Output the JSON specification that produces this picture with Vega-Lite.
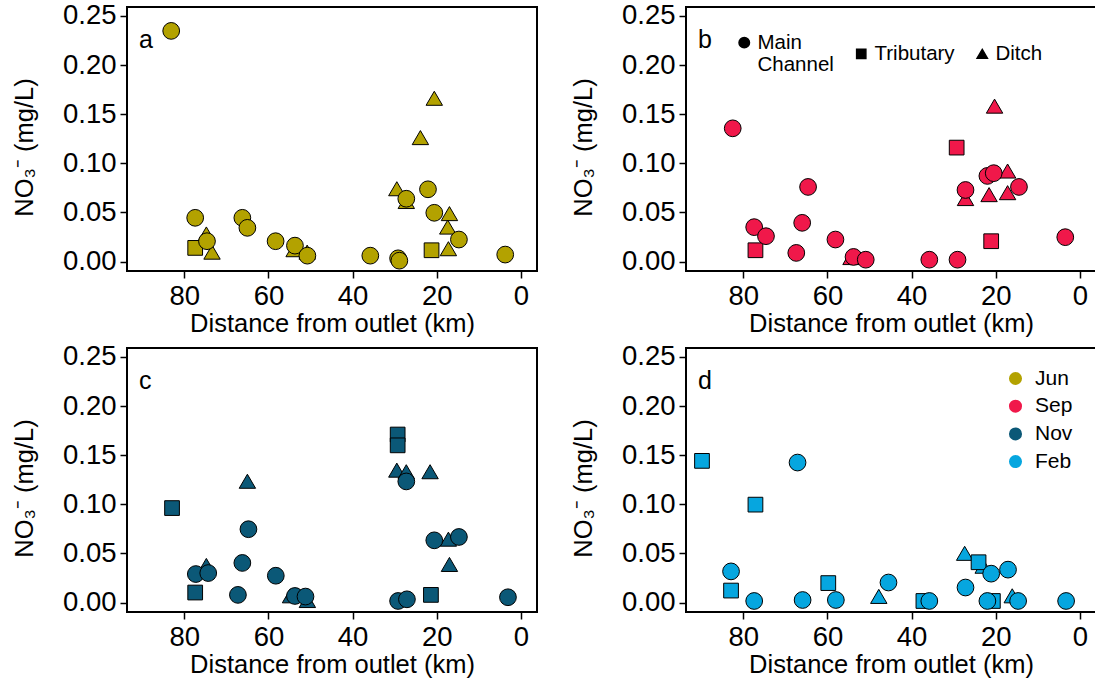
{
  "$schema": "https://vega.github.io/schema/vega-lite/v6.json",
  "autosize": {"type": "none"},
  "padding": {"left": 127, "top": 7, "right": 968, "bottom": 671},
  "background": "white",
  "bounds": "flush",
  "spacing": {"row": 77, "column": 149},
  "columns": 2,
  "config": {
    "font": "Liberation Sans",
    "view": {"stroke": "black", "strokeWidth": 2},
    "axis": {"domain": false, "grid": false, "ticks": true, "tickColor": "black", "tickWidth": 1.5, "tickSize": 7, "labelFont": "Liberation Sans", "labelFontSize": 27.5, "labelColor": "black", "labelPadding": 4, "titleFont": "Liberation Sans", "titleFontSize": 25.5, "titleFontWeight": "normal", "titleColor": "black"},
    "axisX": {"titlePadding": 2},
    "axisY": {"titlePadding": 25, "titleY": 140},
    "legend": {"labelFont": "Liberation Sans", "labelColor": "black", "padding": 0},
    "title": {"anchor": "start", "frame": "group", "orient": "top", "offset": -51, "dx": 12, "fontSize": 25, "fontWeight": "normal", "font": "Liberation Sans", "color": "black", "baseline": "alphabetic"}
  },
  "resolve": {
    "scale": {"shape": "independent", "fill": "independent"},
    "legend": {"shape": "independent", "fill": "independent"}
  },
  "datasets": {
    "jun": [
      {"dist": 20.6, "no3": 0.166, "type": "Ditch", "month": "Jun"},
      {"dist": 23.9, "no3": 0.126, "type": "Ditch", "month": "Jun"},
      {"dist": 29.5, "no3": 0.074, "type": "Ditch", "month": "Jun"},
      {"dist": 27.25, "no3": 0.061, "type": "Ditch", "month": "Jun"},
      {"dist": 17.0, "no3": 0.0487, "type": "Ditch", "month": "Jun"},
      {"dist": 17.4, "no3": 0.035, "type": "Ditch", "month": "Jun"},
      {"dist": 17.25, "no3": 0.013, "type": "Ditch", "month": "Jun"},
      {"dist": 74.75, "no3": 0.028, "type": "Ditch", "month": "Jun"},
      {"dist": 73.4, "no3": 0.0095, "type": "Ditch", "month": "Jun"},
      {"dist": 53.9, "no3": 0.012, "type": "Ditch", "month": "Jun"},
      {"dist": 50.8, "no3": 0.0095, "type": "Ditch", "month": "Jun"},
      {"dist": 77.4, "no3": 0.014, "type": "Tributary", "month": "Jun"},
      {"dist": 21.25, "no3": 0.0116, "type": "Tributary", "month": "Jun"},
      {"dist": 83.1, "no3": 0.2347, "type": "Main Channel", "month": "Jun"},
      {"dist": 77.4, "no3": 0.0446, "type": "Main Channel", "month": "Jun"},
      {"dist": 74.6, "no3": 0.0208, "type": "Main Channel", "month": "Jun"},
      {"dist": 66.2, "no3": 0.0446, "type": "Main Channel", "month": "Jun"},
      {"dist": 65.0, "no3": 0.0344, "type": "Main Channel", "month": "Jun"},
      {"dist": 58.3, "no3": 0.0208, "type": "Main Channel", "month": "Jun"},
      {"dist": 53.7, "no3": 0.0163, "type": "Main Channel", "month": "Jun"},
      {"dist": 50.75, "no3": 0.0061, "type": "Main Channel", "month": "Jun"},
      {"dist": 35.8, "no3": 0.0061, "type": "Main Channel", "month": "Jun"},
      {"dist": 29.2, "no3": 0.0034, "type": "Main Channel", "month": "Jun"},
      {"dist": 28.9, "no3": 0.001, "type": "Main Channel", "month": "Jun"},
      {"dist": 27.25, "no3": 0.064, "type": "Main Channel", "month": "Jun"},
      {"dist": 22.1, "no3": 0.0736, "type": "Main Channel", "month": "Jun"},
      {"dist": 20.6, "no3": 0.0497, "type": "Main Channel", "month": "Jun"},
      {"dist": 14.75, "no3": 0.0225, "type": "Main Channel", "month": "Jun"},
      {"dist": 3.75, "no3": 0.0072, "type": "Main Channel", "month": "Jun"}
    ],
    "sep": [
      {"dist": 20.3, "no3": 0.158, "type": "Ditch", "month": "Sep"},
      {"dist": 17.2, "no3": 0.092, "type": "Ditch", "month": "Sep"},
      {"dist": 17.2, "no3": 0.070, "type": "Ditch", "month": "Sep"},
      {"dist": 21.6, "no3": 0.068, "type": "Ditch", "month": "Sep"},
      {"dist": 27.2, "no3": 0.064, "type": "Ditch", "month": "Sep"},
      {"dist": 54.4, "no3": 0.004, "type": "Ditch", "month": "Sep"},
      {"dist": 29.3, "no3": 0.116, "type": "Tributary", "month": "Sep"},
      {"dist": 21.1, "no3": 0.0208, "type": "Tributary", "month": "Sep"},
      {"dist": 77.1, "no3": 0.0116, "type": "Tributary", "month": "Sep"},
      {"dist": 82.5, "no3": 0.1356, "type": "Main Channel", "month": "Sep"},
      {"dist": 77.4, "no3": 0.0351, "type": "Main Channel", "month": "Sep"},
      {"dist": 74.6, "no3": 0.0259, "type": "Main Channel", "month": "Sep"},
      {"dist": 67.4, "no3": 0.0089, "type": "Main Channel", "month": "Sep"},
      {"dist": 66.0, "no3": 0.0395, "type": "Main Channel", "month": "Sep"},
      {"dist": 64.6, "no3": 0.076, "type": "Main Channel", "month": "Sep"},
      {"dist": 58.1, "no3": 0.0225, "type": "Main Channel", "month": "Sep"},
      {"dist": 53.8, "no3": 0.0048, "type": "Main Channel", "month": "Sep"},
      {"dist": 50.9, "no3": 0.002, "type": "Main Channel", "month": "Sep"},
      {"dist": 35.8, "no3": 0.002, "type": "Main Channel", "month": "Sep"},
      {"dist": 29.1, "no3": 0.002, "type": "Main Channel", "month": "Sep"},
      {"dist": 27.2, "no3": 0.0729, "type": "Main Channel", "month": "Sep"},
      {"dist": 22.0, "no3": 0.0872, "type": "Main Channel", "month": "Sep"},
      {"dist": 20.5, "no3": 0.09, "type": "Main Channel", "month": "Sep"},
      {"dist": 14.5, "no3": 0.076, "type": "Main Channel", "month": "Sep"},
      {"dist": 3.5, "no3": 0.0249, "type": "Main Channel", "month": "Sep"}
    ],
    "nov": [
      {"dist": 65.0, "no3": 0.1233, "type": "Ditch", "month": "Nov"},
      {"dist": 29.5, "no3": 0.1346, "type": "Ditch", "month": "Nov"},
      {"dist": 27.25, "no3": 0.133, "type": "Ditch", "month": "Nov"},
      {"dist": 21.6, "no3": 0.133, "type": "Ditch", "month": "Nov"},
      {"dist": 17.25, "no3": 0.0644, "type": "Ditch", "month": "Nov"},
      {"dist": 17.0, "no3": 0.0387, "type": "Ditch", "month": "Nov"},
      {"dist": 74.75, "no3": 0.0377, "type": "Ditch", "month": "Nov"},
      {"dist": 54.75, "no3": 0.0068, "type": "Ditch", "month": "Nov"},
      {"dist": 50.75, "no3": 0.002, "type": "Ditch", "month": "Nov"},
      {"dist": 82.9, "no3": 0.0962, "type": "Tributary", "month": "Nov"},
      {"dist": 77.4, "no3": 0.0103, "type": "Tributary", "month": "Nov"},
      {"dist": 29.3, "no3": 0.171, "type": "Tributary", "month": "Nov"},
      {"dist": 29.3, "no3": 0.160, "type": "Tributary", "month": "Nov"},
      {"dist": 21.4, "no3": 0.0079, "type": "Tributary", "month": "Nov"},
      {"dist": 77.25, "no3": 0.0291, "type": "Main Channel", "month": "Nov"},
      {"dist": 74.3, "no3": 0.0301, "type": "Main Channel", "month": "Nov"},
      {"dist": 67.25, "no3": 0.0079, "type": "Main Channel", "month": "Nov"},
      {"dist": 66.2, "no3": 0.0404, "type": "Main Channel", "month": "Nov"},
      {"dist": 64.75, "no3": 0.0747, "type": "Main Channel", "month": "Nov"},
      {"dist": 58.25, "no3": 0.0274, "type": "Main Channel", "month": "Nov"},
      {"dist": 53.7, "no3": 0.0068, "type": "Main Channel", "month": "Nov"},
      {"dist": 51.2, "no3": 0.0062, "type": "Main Channel", "month": "Nov"},
      {"dist": 29.2, "no3": 0.0017, "type": "Main Channel", "month": "Nov"},
      {"dist": 27.1, "no3": 0.0034, "type": "Main Channel", "month": "Nov"},
      {"dist": 27.25, "no3": 0.1233, "type": "Main Channel", "month": "Nov"},
      {"dist": 20.6, "no3": 0.0634, "type": "Main Channel", "month": "Nov"},
      {"dist": 14.75, "no3": 0.0668, "type": "Main Channel", "month": "Nov"},
      {"dist": 3.1, "no3": 0.0055, "type": "Main Channel", "month": "Nov"}
    ],
    "feb": [
      {"dist": 27.4, "no3": 0.05, "type": "Ditch", "month": "Feb"},
      {"dist": 23.0, "no3": 0.0369, "type": "Ditch", "month": "Feb"},
      {"dist": 47.8, "no3": 0.0062, "type": "Ditch", "month": "Feb"},
      {"dist": 16.1, "no3": 0.0068, "type": "Ditch", "month": "Feb"},
      {"dist": 89.8, "no3": 0.1442, "type": "Tributary", "month": "Feb"},
      {"dist": 77.1, "no3": 0.0997, "type": "Tributary", "month": "Feb"},
      {"dist": 82.9, "no3": 0.0123, "type": "Tributary", "month": "Feb"},
      {"dist": 59.8, "no3": 0.0199, "type": "Tributary", "month": "Feb"},
      {"dist": 37.2, "no3": 0.0017, "type": "Tributary", "month": "Feb"},
      {"dist": 24.1, "no3": 0.0411, "type": "Tributary", "month": "Feb"},
      {"dist": 20.7, "no3": 0.0017, "type": "Tributary", "month": "Feb"},
      {"dist": 67.1, "no3": 0.1425, "type": "Main Channel", "month": "Feb"},
      {"dist": 82.9, "no3": 0.0318, "type": "Main Channel", "month": "Feb"},
      {"dist": 77.4, "no3": 0.0017, "type": "Main Channel", "month": "Feb"},
      {"dist": 65.9, "no3": 0.0027, "type": "Main Channel", "month": "Feb"},
      {"dist": 58.0, "no3": 0.0027, "type": "Main Channel", "month": "Feb"},
      {"dist": 45.5, "no3": 0.0205, "type": "Main Channel", "month": "Feb"},
      {"dist": 35.8, "no3": 0.0017, "type": "Main Channel", "month": "Feb"},
      {"dist": 27.2, "no3": 0.0154, "type": "Main Channel", "month": "Feb"},
      {"dist": 22.0, "no3": 0.0017, "type": "Main Channel", "month": "Feb"},
      {"dist": 21.1, "no3": 0.0295, "type": "Main Channel", "month": "Feb"},
      {"dist": 17.1, "no3": 0.0336, "type": "Main Channel", "month": "Feb"},
      {"dist": 14.7, "no3": 0.0017, "type": "Main Channel", "month": "Feb"},
      {"dist": 3.3, "no3": 0.0017, "type": "Main Channel", "month": "Feb"}
    ]
  },
  "concat": [
    {
      "width": 410, "height": 264,
      "data": {"name": "jun"},
      "title": {"text": "a"},
      "mark": {"type": "point", "filled": true, "stroke": "black", "strokeWidth": 1, "opacity": 1, "size": 280},
      "encoding": {
        "x": {"field": "dist", "type": "quantitative", "scale": {"domain": [-3.8, 93.6], "reverse": true, "nice": false, "zero": false}, "axis": {"values": [0, 20, 40, 60, 80], "title": "Distance from outlet (km)"}},
        "y": {"field": "no3", "type": "quantitative", "scale": {"domain": [-0.0095, 0.259], "nice": false, "zero": false}, "axis": {"values": [0, 0.05, 0.1, 0.15, 0.2, 0.25], "format": ".2f", "title": "NO₃⁻   (mg/L)"}},
        "shape": {"field": "type", "type": "nominal", "scale": {"domain": ["Main Channel", "Tributary", "Ditch"], "range": ["circle", "M-0.88,-0.88L0.88,-0.88L0.88,0.88L-0.88,0.88Z", "M0,-0.86L0.98,0.82L-0.98,0.82Z"]}, "legend": null},
        "fill": {"field": "month", "type": "nominal", "scale": {"domain": ["Jun", "Sep", "Nov", "Feb"], "range": ["#B3A200", "#F0184A", "#0B5877", "#06A6DF"]}, "legend": null}
      }
    },
    {
      "width": 410, "height": 264,
      "data": {"name": "sep"},
      "title": {"text": "b"},
      "mark": {"type": "point", "filled": true, "stroke": "black", "strokeWidth": 1, "opacity": 1, "size": 280},
      "encoding": {
        "x": {"field": "dist", "type": "quantitative", "scale": {"domain": [-3.8, 93.6], "reverse": true, "nice": false, "zero": false}, "axis": {"values": [0, 20, 40, 60, 80], "title": "Distance from outlet (km)"}},
        "y": {"field": "no3", "type": "quantitative", "scale": {"domain": [-0.0095, 0.259], "nice": false, "zero": false}, "axis": {"values": [0, 0.05, 0.1, 0.15, 0.2, 0.25], "format": ".2f", "title": "NO₃⁻   (mg/L)"}},
        "shape": {"field": "type", "type": "nominal", "scale": {"domain": ["Main Channel", "Tributary", "Ditch"], "range": ["circle", "M-0.88,-0.88L0.88,-0.88L0.88,0.88L-0.88,0.88Z", "M0,-0.86L0.98,0.82L-0.98,0.82Z"]},
          "legend": {"orient": "none", "legendX": 48, "legendY": 25, "direction": "horizontal", "title": null, "labelFontSize": 20.5, "symbolSize": 110, "labelOffset": 3, "columnPadding": 17,
            "labelExpr": "datum.label == 'Main Channel' ? ['Main', 'Channel'] : datum.label",
            "symbolFillColor": "black", "symbolStrokeColor": "black",
            "encode": {
              "symbols": {"fill": {"value": "black"}, "stroke": {"value": "black"}},
              "labels": {
                "lineHeight": {"value": 25},
                "dy": {"condition": {"test": "datum.index === 0", "value": -12.5}, "value": 0},
                "dx": {"condition": {"test": "datum.index === 0", "value": 6}, "value": 0}
              }
            }}},
        "fill": {"field": "month", "type": "nominal", "scale": {"domain": ["Jun", "Sep", "Nov", "Feb"], "range": ["#B3A200", "#F0184A", "#0B5877", "#06A6DF"]}, "legend": null}
      }
    },
    {
      "width": 410, "height": 264,
      "data": {"name": "nov"},
      "title": {"text": "c"},
      "mark": {"type": "point", "filled": true, "stroke": "black", "strokeWidth": 1, "opacity": 1, "size": 280},
      "encoding": {
        "x": {"field": "dist", "type": "quantitative", "scale": {"domain": [-3.8, 93.6], "reverse": true, "nice": false, "zero": false}, "axis": {"values": [0, 20, 40, 60, 80], "title": "Distance from outlet (km)"}},
        "y": {"field": "no3", "type": "quantitative", "scale": {"domain": [-0.0095, 0.259], "nice": false, "zero": false}, "axis": {"values": [0, 0.05, 0.1, 0.15, 0.2, 0.25], "format": ".2f", "title": "NO₃⁻   (mg/L)"}},
        "shape": {"field": "type", "type": "nominal", "scale": {"domain": ["Main Channel", "Tributary", "Ditch"], "range": ["circle", "M-0.88,-0.88L0.88,-0.88L0.88,0.88L-0.88,0.88Z", "M0,-0.86L0.98,0.82L-0.98,0.82Z"]}, "legend": null},
        "fill": {"field": "month", "type": "nominal", "scale": {"domain": ["Jun", "Sep", "Nov", "Feb"], "range": ["#B3A200", "#F0184A", "#0B5877", "#06A6DF"]}, "legend": null}
      }
    },
    {
      "width": 410, "height": 264,
      "data": {"name": "feb"},
      "title": {"text": "d"},
      "mark": {"type": "point", "filled": true, "stroke": "black", "strokeWidth": 1, "opacity": 1, "size": 280},
      "encoding": {
        "x": {"field": "dist", "type": "quantitative", "scale": {"domain": [-3.8, 93.6], "reverse": true, "nice": false, "zero": false}, "axis": {"values": [0, 20, 40, 60, 80], "title": "Distance from outlet (km)"}},
        "y": {"field": "no3", "type": "quantitative", "scale": {"domain": [-0.0095, 0.259], "nice": false, "zero": false}, "axis": {"values": [0, 0.05, 0.1, 0.15, 0.2, 0.25], "format": ".2f", "title": "NO₃⁻   (mg/L)"}},
        "shape": {"field": "type", "type": "nominal", "scale": {"domain": ["Main Channel", "Tributary", "Ditch"], "range": ["circle", "M-0.88,-0.88L0.88,-0.88L0.88,0.88L-0.88,0.88Z", "M0,-0.86L0.98,0.82L-0.98,0.82Z"]}, "legend": null},
        "fill": {"field": "month", "type": "nominal", "scale": {"domain": ["Jun", "Sep", "Nov", "Feb"], "range": ["#B3A200", "#F0184A", "#0B5877", "#06A6DF"]},
          "legend": {"orient": "none", "legendX": 319, "legendY": 20, "title": null, "labelFontSize": 21, "symbolSize": 170, "symbolType": "circle", "symbolStrokeWidth": 0, "rowPadding": 5.7, "labelOffset": 9,
            "encode": {"symbols": {"strokeWidth": {"value": 0}, "shape": {"value": "circle"}}}}}
      }
    }
  ]
}
